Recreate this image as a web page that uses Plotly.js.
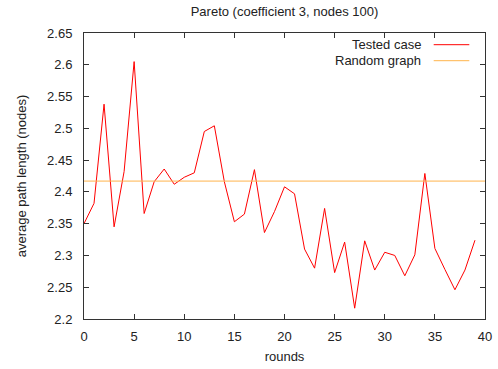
<!DOCTYPE html>
<html>
<head>
<meta charset="utf-8">
<script src="https://cdn.plot.ly/plotly-3.0.1.min.js"></script>
<style>html,body{margin:0;padding:0;background:#fff;}#chart{width:498px;height:369px;}</style>
</head>
<body>
<div id="chart"></div>
<script>
const rounds = [0,1,2,3,4,5,6,7,8,9,10,11,12,13,14,15,16,17,18,19,20,21,22,23,24,25,26,27,28,29,30,31,32,33,34,35,36,37,38,39];
const testedCase = [2.350,2.382,2.538,2.345,2.432,2.605,2.366,2.416,2.436,2.412,2.423,2.430,2.495,2.504,2.416,2.353,2.365,2.435,2.336,2.369,2.408,2.397,2.310,2.280,2.374,2.273,2.321,2.217,2.323,2.277,2.305,2.300,2.268,2.301,2.429,2.311,2.278,2.246,2.277,2.324];
const randomGraphValue = 2.417;
const randomX = [0, 40];
const randomY = [randomGraphValue, randomGraphValue];
const xTicks = [0,5,10,15,20,25,30,35,40];
const yTicks = [2.2,2.25,2.3,2.35,2.4,2.45,2.5,2.55,2.6,2.65];
const yTickLabels = ['2.2','2.25','2.3','2.35','2.4','2.45','2.5','2.55','2.6','2.65'];
const seriesNames = ['Tested case', 'Random graph'];
const colors = ['#ff0000', '#ffb44c'];

const font = {family: 'Liberation Sans, Arial, sans-serif', size: 13, color: '#222'};

const traces = [
  {x: rounds, y: testedCase, type: 'scatter', mode: 'lines', name: seriesNames[0],
   line: {color: colors[0], width: 1}, showlegend: false},
  {x: randomX, y: randomY, type: 'scatter', mode: 'lines', name: seriesNames[1],
   line: {color: colors[1], width: 1}, showlegend: false}
];

const axisCommon = {
  showgrid: false, zeroline: false, showline: true, mirror: 'ticks',
  linecolor: '#333', linewidth: 1, ticks: 'inside', ticklen: 5, tickcolor: '#333',
  tickfont: font
};

const layout = {
  width: 498, height: 369,
  margin: {l: 84, r: 13, t: 33, b: 50},
  paper_bgcolor: '#fff', plot_bgcolor: '#fff',
  font: font,
  title: {text: 'Pareto (coefficient 3, nodes 100)', font: font, xref: 'paper', x: 0.5, xanchor: 'center', y: 0.97, yanchor: 'middle'},
  xaxis: Object.assign({}, axisCommon, {
    range: [0, 40], tickvals: xTicks, ticktext: xTicks.map(String),
    ticklabelstandoff: 5,
    title: {text: 'rounds', font: font, standoff: 9}
  }),
  yaxis: Object.assign({}, axisCommon, {
    range: [2.2, 2.65], tickvals: yTicks, ticktext: yTickLabels,
    ticklabelstandoff: 8,
    title: {text: 'average path length (nodes)', font: font, standoff: 17}
  }),
  showlegend: false,
  annotations: [
    {xref: 'paper', yref: 'paper', x: (423-84)/401, y: (319-44.7)/286, text: seriesNames[0],
     showarrow: false, xanchor: 'right', yanchor: 'middle', font: font},
    {xref: 'paper', yref: 'paper', x: (423-84)/401, y: (319-60.7)/286, text: seriesNames[1],
     showarrow: false, xanchor: 'right', yanchor: 'middle', font: font}
  ],
  shapes: [
    {type: 'line', xref: 'paper', yref: 'paper', x0: (433.7-84)/401, x1: (469.3-84)/401,
     y0: (319-44.7)/286, y1: (319-44.7)/286, line: {color: colors[0], width: 1}},
    {type: 'line', xref: 'paper', yref: 'paper', x0: (433.7-84)/401, x1: (469.3-84)/401,
     y0: (319-60.7)/286, y1: (319-60.7)/286, line: {color: colors[1], width: 1}}
  ]
};

Plotly.newPlot('chart', traces, layout, {displayModeBar: false, staticPlot: true});
</script>
</body>
</html>
